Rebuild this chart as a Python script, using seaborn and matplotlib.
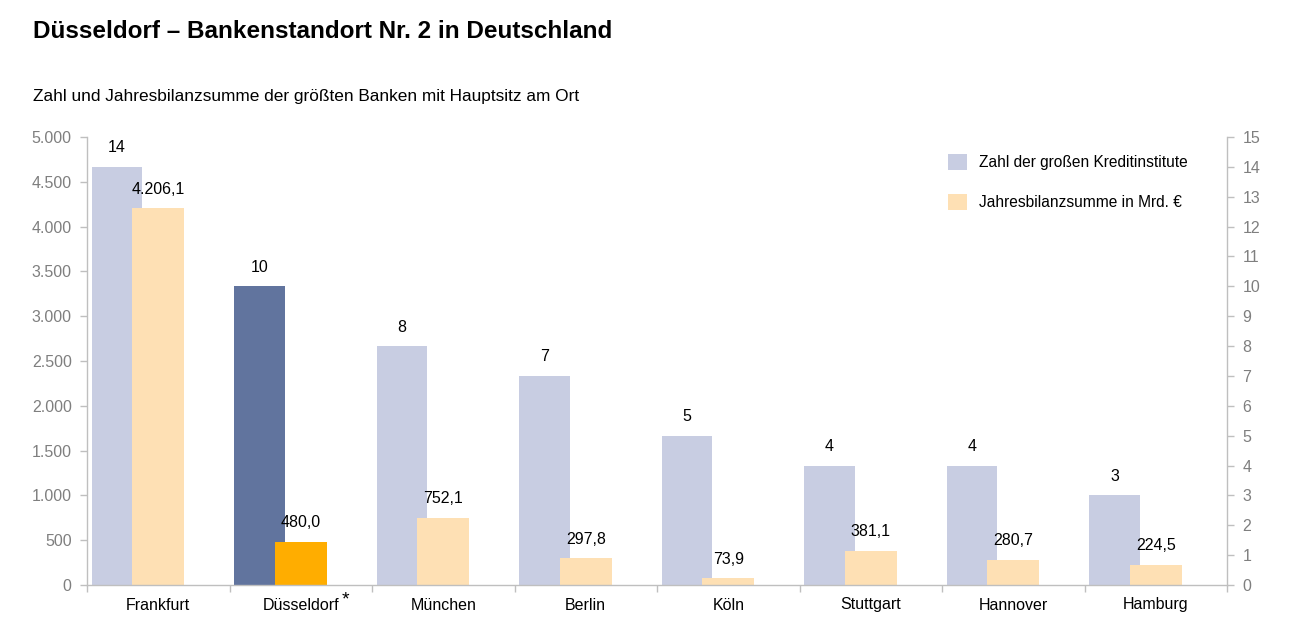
import numpy as np
import pandas as pd
import matplotlib
matplotlib.use("Agg")
import matplotlib.pyplot as plt
import matplotlib.ticker as mticker
from matplotlib.patches import Patch
import seaborn as sns

# Daten
staedte = ["Frankfurt", "Düsseldorf", "München", "Berlin", "Köln", "Stuttgart", "Hannover", "Hamburg"]
anzahl_banken = [14, 10, 8, 7, 5, 4, 4, 3]
bilanzsumme = [4206.1, 480.0, 752.1, 297.8, 73.9, 381.1, 280.7, 224.5]
tick_links = [0, 500, 1000, 1500, 2000, 2500, 3000, 3500, 4000, 4500, 5000]
tick_rechts = list(range(0, 16))

sns.set_style("white")
plt.rcParams["font.family"] = ["Liberation Sans", "DejaVu Sans"]
plt.rcParams["text.color"] = "#000000"

hellblau = "#C8CDE2"
dunkelblau = "#61749E"
hellorange = "#FEE0B4"
orange = "#FFAD00"
grau = "#BFBFBF"
textgrau = "#7F7F7F"

def de_format(v, nk=1):
    s = f"{v:,.{nk}f}"
    return s.replace(",", "X").replace(".", ",").replace("X", ".")

pos = np.arange(len(staedte))
df = pd.DataFrame({"Stadt": staedte, "Anzahl": anzahl_banken, "Bilanz": bilanzsumme,
                   "x_blau": pos - 0.29, "x_orange": pos + 0.0})

farben_blau = {s: (dunkelblau if s == "Düsseldorf" else hellblau) for s in staedte}
farben_orange = {s: (orange if s == "Düsseldorf" else hellorange) for s in staedte}

fig = plt.figure(figsize=(12.9, 6.33), dpi=100)
ax = fig.add_axes([87 / 1290, 48 / 633, 1140 / 1290, 448 / 633])   # links: Bilanzsumme
ax2 = ax.twinx()                                                    # rechts: Anzahl

sns.barplot(data=df, x="x_blau", y="Anzahl", hue="Stadt", palette=farben_blau,
            native_scale=True, width=0.355, dodge=False, legend=False, ax=ax2,
            saturation=1, linewidth=0)
sns.barplot(data=df, x="x_orange", y="Bilanz", hue="Stadt", palette=farben_orange,
            native_scale=True, width=0.365, dodge=False, legend=False, ax=ax,
            saturation=1, linewidth=0)

# orange Balken über die blauen legen
ax.set_zorder(ax2.get_zorder() + 1)
ax.patch.set_visible(False)

for a in (ax, ax2):
    a.set_xlim(-0.5, len(staedte) - 0.5)
    a.set_xlabel("")
    a.set_ylabel("")
    a.grid(False)

ax.set_ylim(0, 5000)
ax2.set_ylim(0, 15)
ax.set_yticks(tick_links)
ax.yaxis.set_major_formatter(mticker.FuncFormatter(lambda v, _: de_format(v, 0)))
ax2.set_yticks(tick_rechts)

# x-Achse: Striche zwischen den Kategorien, Beschriftung in der Mitte
ax.set_xticks(np.arange(-0.5, len(staedte)), labels=[""] * (len(staedte) + 1))
ax.set_xticks(pos, labels=staedte, minor=True)
ax.tick_params(axis="x", which="major", direction="out", length=5, width=1, color=grau, bottom=True)
ax.tick_params(axis="x", which="minor", length=0, pad=9, labelsize=11.5, labelcolor="#000000")
ax2.tick_params(axis="x", which="both", bottom=False, labelbottom=False)

# Sternchen hinter Düsseldorf
ax.annotate("*", (1, 0), xycoords=("data", "axes fraction"), xytext=(45, -15),
            textcoords="offset pixels", ha="center", va="center", fontsize=14, color="#000000")

ax.tick_params(axis="y", direction="out", length=5, width=1, color=grau, labelsize=11.5,
               labelcolor=textgrau, left=True, pad=6)
ax2.tick_params(axis="y", direction="out", length=5, width=1, color=grau, labelsize=11.5,
                labelcolor=textgrau, right=True, pad=6)

for a in (ax, ax2):
    a.spines["top"].set_visible(False)
    for seite in ("left", "right", "bottom"):
        a.spines[seite].set_color(grau)
        a.spines[seite].set_linewidth(1)
ax2.spines["left"].set_visible(False)
ax2.spines["bottom"].set_visible(False)
ax.spines["right"].set_visible(False)

# Werte über den Balken
for x, v in zip(df["x_blau"], anzahl_banken):
    ax2.annotate(str(v), (x, v), xytext=(0, 19), textcoords="offset pixels",
                 ha="center", va="center", fontsize=11.5, color="#000000")
for x, v in zip(df["x_orange"], bilanzsumme):
    ax.annotate(de_format(v), (x, v), xytext=(0, 19), textcoords="offset pixels",
                ha="center", va="center", fontsize=11.5, color="#000000")

# Legende
handles = [Patch(facecolor=hellblau, edgecolor="none"), Patch(facecolor=hellorange, edgecolor="none")]
leg = fig.legend(handles, ["Zahl der großen Kreditinstitute", "Jahresbilanzsumme in Mrd. €"],
                 loc="upper left", bbox_to_anchor=(948 / 1290, 1 - 154 / 633), frameon=False,
                 fontsize=11.2, handlelength=1.2, handleheight=1.2, handletextpad=0.8,
                 labelspacing=1.5, borderpad=0, borderaxespad=0)
for t in leg.get_texts():
    t.set_color("#000000")

# Titel
fig.text(33 / 1290, 1 - 32 / 633, "Düsseldorf – Bankenstandort Nr. 2 in Deutschland",
         fontsize=17.5, fontweight="bold", ha="left", va="center", color="#000000")
fig.text(33 / 1290, 1 - 96 / 633, "Zahl und Jahresbilanzsumme der größten Banken mit Hauptsitz am Ort",
         fontsize=12.4, ha="left", va="center", color="#000000")

fig.savefig("out.png", dpi=100)
